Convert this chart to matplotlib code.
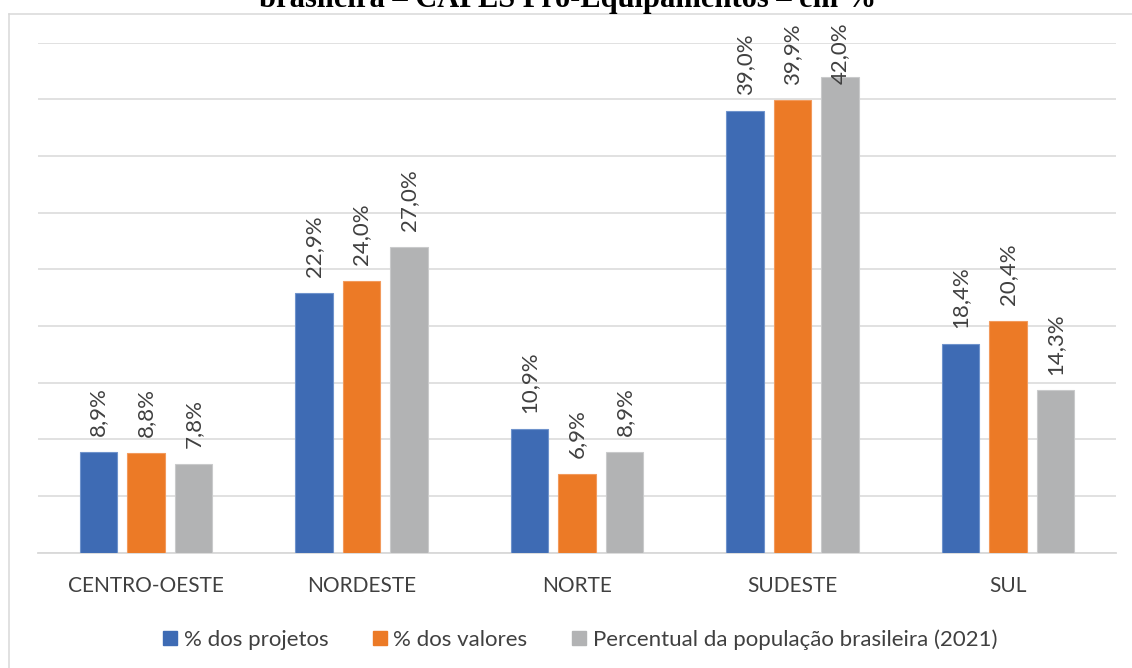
import matplotlib
matplotlib.use("Agg")
import matplotlib.pyplot as plt
from matplotlib.patches import Patch
from matplotlib.lines import Line2D
import numpy as np

categories = ["CENTRO-OESTE", "NORDESTE", "NORTE", "SUDESTE", "SUL"]
projetos = [8.9, 22.9, 10.9, 39.0, 18.4]
valores = [8.8, 24.0, 6.9, 39.9, 20.4]
populacao = [7.8, 27.0, 8.9, 42.0, 14.3]
series_names = ["% dos projetos", "% dos valores", "Percentual da população brasileira (2021)"]
title = "brasileira – CAPES Pró-Equipamentos – em %"

colors = ["#3E6BB4", "#EC7A26", "#B2B3B4"]
edges = ["#6F93CC", "#F29A5C", "#C9CACB"]
text_color = "#404040"
grid_color = "#D9D9D9"
FONT = ["Lato", "DejaVu Sans"]
FS = 16

W, H, DPI = 1132, 668, 100
fig = plt.figure(figsize=(W / DPI, H / DPI), dpi=DPI)
fig.patch.set_facecolor("white")

left, right = 38.25, 1115.75
base, top = 552.5, 42.7
ax = fig.add_axes([left / W, 1 - base / H, (right - left) / W, (base - top) / H])

x = np.arange(len(categories))
bw = 0.175
step = 0.221
data = [projetos, valores, populacao]
bars_all = []
for i, (vals, c, e, name) in enumerate(zip(data, colors, edges, series_names)):
    b = ax.bar(x + (i - 1) * step, vals, width=bw, color=c, edgecolor=e,
               linewidth=0.8, zorder=3, label=name)
    bars_all.append((b, vals))

ax.set_xlim(-0.5, len(categories) - 0.5)
ax.set_ylim(0, 45)
ax.set_yticks(np.arange(0, 46, 5))
ax.yaxis.grid(True, color=grid_color, linewidth=1.1, zorder=0)
ax.set_axisbelow(True)
ax.tick_params(axis="y", left=False, labelleft=False)
ax.set_xticks(x)
ax.set_xticklabels(categories, fontsize=15, color=text_color, family=FONT)
ax.tick_params(axis="x", length=0, pad=17)
for s in ["left", "right", "top"]:
    ax.spines[s].set_visible(False)
ax.spines["bottom"].set_color(grid_color)
ax.spines["bottom"].set_linewidth(1.3)
ax.patch.set_alpha(0)

anns = []
for b, vals in bars_all:
    for rect, v in zip(b, vals):
        a = ax.annotate(f"{v:.1f}%".replace(".", ","),
                        xy=(rect.get_x() + rect.get_width() / 2, rect.get_height()),
                        xytext=(0, 11.5), textcoords="offset points",
                        rotation=90, ha="center", va="bottom",
                        fontsize=FS, color=text_color, family=FONT,
                        annotation_clip=False, zorder=4)
        anns.append(a)

# outer chart frame (left and top edges visible)
fig.add_artist(Line2D([9.3 / W, 9.3 / W], [0, 1 - 14 / H], transform=fig.transFigure,
                      color=grid_color, linewidth=1.1))
fig.add_artist(Line2D([9.3 / W, 1], [1 - 14 / H, 1 - 14 / H], transform=fig.transFigure,
                      color=grid_color, linewidth=1.1))

fig.text(568 / W, 1 - 6.5 / H, title, ha="center", va="baseline",
         fontsize=22, fontweight="bold", family="Liberation Serif", color="black")

handles = [Patch(facecolor=c, edgecolor=c) for c in colors]
leg = fig.legend(handles, series_names, loc="center", ncol=3,
                 bbox_to_anchor=(580 / W, 1 - 639.5 / H), frameon=False,
                 prop={"family": FONT, "size": FS},
                 handlelength=0.63, handleheight=0.63, handletextpad=0.3,
                 columnspacing=2.0, borderpad=0)
for t in leg.get_texts():
    t.set_color(text_color)

# keep labels inside the chart frame (like the original)
fig.canvas.draw()
r = fig.canvas.get_renderer()
limit = H - 22.7
for a in anns:
    bb = a.get_window_extent(r)
    if bb.y1 > limit:
        dx, dy = a.xyann
        a.xyann = (dx, dy - (bb.y1 - limit) * 72 / DPI)

fig.savefig("out.png", dpi=DPI)
